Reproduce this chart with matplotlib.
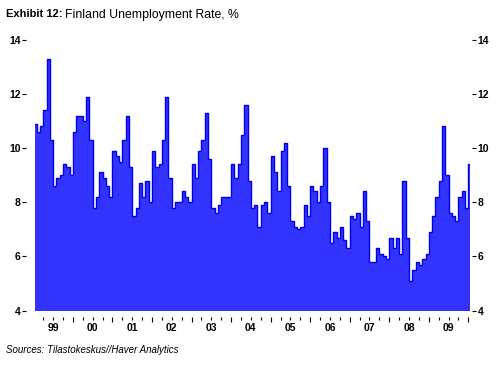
import numpy as np
import matplotlib
matplotlib.use('Agg')
import matplotlib.pyplot as plt

plt.rcParams['font.family'] = ['Liberation Sans', 'DejaVu Sans']

# monthly unemployment rate, Jan 1999 .. Jan 2010
r1999 = [10.9, 10.6, 10.8, 11.4, 13.3, 10.3, 8.6, 8.9, 9.0, 9.4, 9.3, 9.0]
r2000 = [10.6, 11.2, 11.2, 11.0, 11.9, 10.3, 7.8, 8.2, 9.1, 8.9, 8.6, 8.2]
r2001 = [9.9, 9.7, 9.5, 10.3, 11.2, 9.3, 7.5, 7.8, 8.7, 8.2, 8.8, 8.0]
r2002 = [9.9, 9.3, 9.4, 10.3, 11.9, 8.9, 7.8, 8.0, 8.0, 8.4, 8.2, 8.0]
r2003 = [9.4, 8.9, 9.9, 10.3, 11.3, 9.6, 7.8, 7.6, 7.9, 8.2, 8.2, 8.2]
r2004 = [9.4, 8.9, 9.4, 10.5, 11.6, 8.8, 7.8, 7.9, 7.1, 7.9, 8.0, 7.6]
r2005 = [9.7, 9.1, 8.4, 9.9, 10.2, 8.6, 7.3, 7.1, 7.0, 7.1, 7.9, 7.5]
r2006 = [8.6, 8.4, 8.0, 8.6, 10.0, 8.0, 6.5, 6.9, 6.7, 7.1, 6.6, 6.3]
r2007 = [7.5, 7.4, 7.6, 7.1, 8.4, 7.3, 5.8, 5.8, 6.3, 6.1, 6.0, 5.9]
r2008 = [6.7, 6.3, 6.7, 6.1, 8.8, 6.7, 5.1, 5.5, 5.8, 5.7, 5.9, 6.1]
r2009 = [6.9, 7.5, 8.2, 8.8, 10.8, 9.0, 7.6, 7.5, 7.3, 8.2, 8.4, 7.8]
r2010 = [9.4]
year_labels = ['99', '00', '01', '02', '03', '04', '05', '06', '07', '08', '09']
yticks = [4, 6, 8, 10, 12, 14]

rate = np.array(r1999 + r2000 + r2001 + r2002 + r2003 + r2004 + r2005
                + r2006 + r2007 + r2008 + r2009 + r2010)
months = np.arange(len(rate))

fig = plt.figure(figsize=(5, 3.65), dpi=100)
ax = fig.add_axes([0.07, 0.1488, 0.87, 0.7424])

ax.fill_between(months, 4, rate, step='mid', color='#3333ff', lw=0)
ax.step(months, rate, where='mid', color='#0000f0', lw=1.0)

ax.set_xlim(0, len(rate) - 1)
ax.set_ylim(4, 14)

for s in ax.spines.values():
    s.set_visible(False)
ax.spines['left'].set_position(('outward', 6.5))
ax.spines['right'].set_position(('outward', 1.5))
ax.spines['bottom'].set_position(('outward', 4.7))

ax.set_yticks(yticks)
ax.tick_params(axis='y', which='both', left=True, right=True, labelleft=True,
               labelright=True, length=3, width=0.8, pad=1, labelsize=7.5)
for t in ax.get_yticklabels():
    t.set_fontweight('bold')

year_edges = np.arange(11.5, len(rate), 12)
quarters = np.arange(2.5, len(rate), 3)
ax.set_xticks(year_edges)
ax.set_xticklabels([])
ax.set_xticks(quarters, minor=True)
ax.tick_params(axis='x', which='major', length=3.8, width=0.8, direction='out')
ax.tick_params(axis='x', which='minor', length=1.8, width=0.8, direction='out')
for i, lab in enumerate(year_labels):
    ax.text(5.5 + 12 * i, -0.046, lab, transform=ax.get_xaxis_transform(),
            ha='center', va='top', fontsize=7.5, fontweight='bold')

fig.text(0.012, 0.975, 'Exhibit 12:', fontsize=8, fontweight='bold', va='top')
fig.text(0.13, 0.975, 'Finland Unemployment Rate, %', fontsize=8.8, va='top')
fig.text(0.012, 0.055, 'Sources: Tilastokeskus//Haver Analytics', fontsize=7,
         style='italic', va='top')

fig.savefig('out.png', dpi=100)
